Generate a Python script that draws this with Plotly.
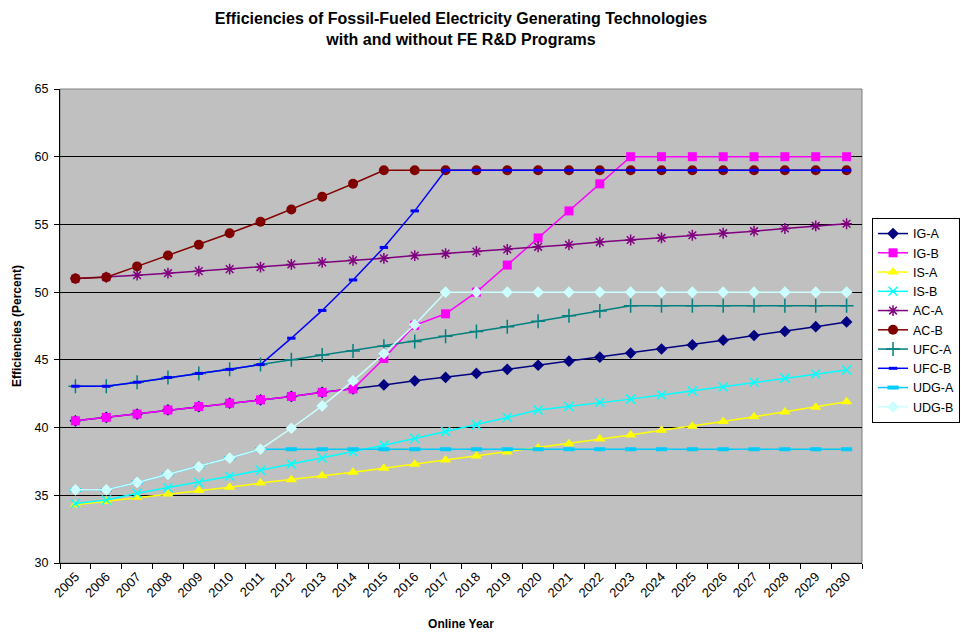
import plotly.graph_objects as go

years = [str(y) for y in range(2005, 2031)]

ig_a = [40.5, 40.75, 41.0, 41.3, 41.55, 41.8, 42.05, 42.3, 42.6, 42.85,
        43.15, 43.45, 43.7, 44.0, 44.3, 44.6, 44.9, 45.2, 45.5, 45.8,
        46.1, 46.45, 46.8, 47.1, 47.45, 47.8]
ig_b = [40.5, 40.75, 41.0, 41.3, 41.55, 41.8, 42.05, 42.3, 42.6, 42.85,
        45.1, 47.55, 48.4, 50.0, 52.0, 54.0, 56.0, 58.0, 60.0, 60.0,
        60.0, 60.0, 60.0, 60.0, 60.0, 60.0]
is_a = [34.3, 34.55, 34.85, 35.1, 35.35, 35.6, 35.9, 36.15, 36.45, 36.7,
        37.0, 37.3, 37.6, 37.9, 38.2, 38.5, 38.8, 39.15, 39.45, 39.8,
        40.1, 40.45, 40.8, 41.15, 41.5, 41.9]
is_b = [34.4, 34.65, 35.15, 35.55, 35.95, 36.4, 36.85, 37.3, 37.75, 38.2,
        38.7, 39.2, 39.7, 40.2, 40.75, 41.3, 41.55, 41.85, 42.1, 42.4,
        42.7, 43.0, 43.35, 43.65, 43.95, 44.25]
ac_a = [51.0, 51.1, 51.25, 51.4, 51.55, 51.7, 51.85, 52.05, 52.2, 52.35,
        52.5, 52.7, 52.85, 53.0, 53.15, 53.35, 53.5, 53.7, 53.85, 54.0,
        54.2, 54.35, 54.5, 54.7, 54.9, 55.05]
ac_b = [51.0, 51.1, 51.9, 52.7, 53.5, 54.35, 55.2, 56.1, 57.05, 58.0,
        59.0, 59.0, 59.0, 59.0, 59.0, 59.0, 59.0, 59.0, 59.0, 59.0,
        59.0, 59.0, 59.0, 59.0, 59.0, 59.0]
ufc_a = [43.05, 43.05, 43.35, 43.7, 44.0, 44.3, 44.65, 45.0, 45.35, 45.65,
         46.0, 46.35, 46.75, 47.1, 47.45, 47.85, 48.25, 48.6, 49.0, 49.0,
         49.0, 49.0, 49.0, 49.0, 49.0, 49.0]
ufc_b = [43.05, 43.05, 43.35, 43.7, 44.0, 44.3, 44.65, 46.6, 48.65, 50.9,
         53.3, 56.0, 59.0, 59.0, 59.0, 59.0, 59.0, 59.0, 59.0, 59.0,
         59.0, 59.0, 59.0, 59.0, 59.0, 59.0]
udg_a = [35.4, 35.4, 35.95, 36.55, 37.1, 37.75, 38.4, 38.4, 38.4, 38.4,
         38.4, 38.4, 38.4, 38.4, 38.4, 38.4, 38.4, 38.4, 38.4, 38.4,
         38.4, 38.4, 38.4, 38.4, 38.4, 38.4]
udg_b = [35.4, 35.4, 35.95, 36.55, 37.1, 37.75, 38.4, 39.95, 41.6, 43.45,
         45.45, 47.6, 50.0, 50.0, 50.0, 50.0, 50.0, 50.0, 50.0, 50.0,
         50.0, 50.0, 50.0, 50.0, 50.0, 50.0]

series = [
    ("IG-A", ig_a, "#000080", dict(symbol="diamond", size=9)),
    ("IG-B", ig_b, "#FF00FF", dict(symbol="square", size=9)),
    ("IS-A", is_a, "#FFFF00", dict(symbol="triangle-up", size=10)),
    ("IS-B", is_b, "#00FFFF", dict(symbol="x-thin-open", size=9, line=dict(width=1.5, color="#00FFFF"))),
    ("AC-A", ac_a, "#800080", dict(symbol="asterisk-open", size=9, line=dict(width=1.5, color="#800080"))),
    ("AC-B", ac_b, "#800000", dict(symbol="circle", size=10)),
    ("UFC-A", ufc_a, "#008080", dict(symbol="cross-thin-open", size=10, line=dict(width=1.5, color="#008080"))),
    ("UFC-B", ufc_b, "#0000FF", dict(symbol="line-ew-open", size=6, line=dict(width=3, color="#0000FF"))),
    ("UDG-A", udg_a, "#00CCFF", dict(symbol="line-ew-open", size=8, line=dict(width=4, color="#00CCFF"))),
    ("UDG-B", udg_b, "#CCFFFF", dict(symbol="diamond", size=9)),
]

fig = go.Figure()
for name, vals, color, mk in series:
    m = dict(color=color)
    m.update(mk)
    fig.add_trace(go.Scatter(x=years, y=vals, name=name, mode="lines+markers",
                             line=dict(color=color, width=1.5), marker=m))

fig.update_layout(
    width=961, height=635,
    margin=dict(l=60, r=99, t=89, b=72, autoexpand=False),
    paper_bgcolor="white",
    plot_bgcolor="#C0C0C0",
    font=dict(family="Liberation Sans, Arial, sans-serif", size=12, color="black"),
    title=dict(text="<b>Efficiencies of Fossil-Fueled Electricity Generating Technologies<br>with and without FE R&D Programs</b>",
               x=0.5, xref="paper", xanchor="center", yref="container", y=0.962, yanchor="top",
               font=dict(size=16)),
    legend=dict(x=1.0125, y=0.728, xanchor="left", yanchor="top",
                bordercolor="black", borderwidth=1, bgcolor="white",
                font=dict(size=12.5), tracegroupgap=0, itemwidth=30),
    showlegend=True,
)
fig.update_xaxes(type="category", range=[-0.5, 25.5], tickson="boundaries",
                 ticks="outside", ticklen=5, tickcolor="black", tickangle=-45,
                 showline=True, linecolor="black", linewidth=1, showgrid=False,
                 tickfont=dict(size=13), automargin=False,
                 title=dict(text="<b>Online Year</b>", font=dict(size=12), standoff=20))
fig.update_yaxes(range=[30, 65], dtick=5, ticks="outside", ticklen=5, tickcolor="black",
                 showline=True, linecolor="black", linewidth=1,
                 showgrid=True, gridcolor="black", gridwidth=1, zeroline=False,
                 tickfont=dict(size=12.5), automargin=False, ticklabelstandoff=3,
                 title=dict(text="<b>Efficiencies (Percent)</b>", font=dict(size=12), standoff=10))
fig.add_shape(type="rect", xref="paper", yref="paper", x0=0, x1=1, y0=0, y1=1,
              line=dict(color="#808080", width=1), layer="below")

fig.write_html("out.html", config={"displayModeBar": False},
               post_script="document.body.style.margin='0';")
